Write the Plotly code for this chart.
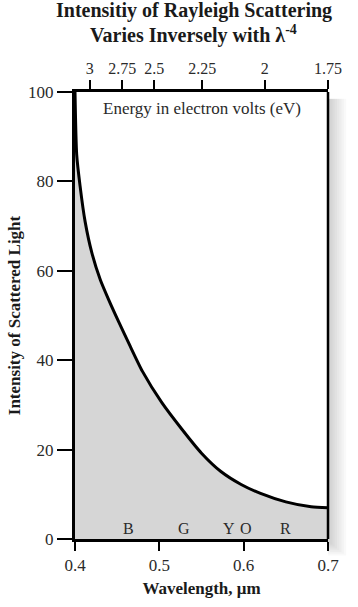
import plotly.graph_objects as go

# Data
wavelength = [0.400, 0.402, 0.406, 0.412, 0.420, 0.430, 0.440, 0.452, 0.465, 0.480,
              0.503, 0.527, 0.550, 0.573, 0.597, 0.620, 0.650, 0.680, 0.700]
intensity = [100, 86, 79, 71, 64, 58, 53.5, 48.5, 43.3, 37.5,
             30.5, 24.5, 19.2, 15.1, 12.2, 10.2, 8.3, 7.2, 7.0]

energy_labels = ["3", "2.75", "2.5", "2.25", "2", "1.75"]
energy_positions = [0.4176, 0.456, 0.494, 0.551, 0.625, 0.700]

color_letters = ["B", "G", "Y", "O", "R"]
color_positions = [0.464, 0.529, 0.583, 0.603, 0.650]

title_lines = ["<b>Intensitiy of Rayleigh Scattering</b>",
               "<b>Varies Inversely with λ<sup>-4</sup></b>"]

SERIF = "Liberation Serif, Times New Roman, serif"
TXT = "#2a2a2a"

fig = go.Figure()
fig.add_trace(go.Scatter(
    x=wavelength, y=intensity, mode="lines",
    line=dict(color="black", width=3, shape="spline", smoothing=0.6),
    fill="tozeroy", fillcolor="#d6d6d6", hoverinfo="skip", showlegend=False))
# invisible trace to activate top axis
fig.add_trace(go.Scatter(x=[0.4, 0.7], y=[0, 0], xaxis="x2", mode="lines",
                         line=dict(width=0), hoverinfo="skip", showlegend=False))

for letter, pos in zip(color_letters, color_positions):
    fig.add_annotation(x=pos, y=0, text=letter, showarrow=False, yanchor="bottom",
                       yshift=0, font=dict(family=SERIF, size=16, color=TXT))

fig.add_annotation(x=0.5, xref="paper", y=1, yref="paper", yanchor="top", yshift=-5,
                   text="Energy in electron volts (eV)", showarrow=False,
                   font=dict(family=SERIF, size=17, color=TXT))

# title lines as annotations
for line, shift in zip(title_lines, [82, 58]):
    fig.add_annotation(x=0.47, xref="paper", y=1, yref="paper", yanchor="middle",
                       xanchor="center", yshift=shift, showarrow=False, text=line,
                       borderpad=0,
                       font=dict(family=SERIF, size=20, color="#1a1a1a"))

# drop shadow on right and bottom
for k in range(1, 9):
    fig.add_shape(type="rect", xref="paper", yref="paper",
                  x0=1.0, x1=1.0 + k * 0.009, y0=-0.005 - k * 0.004, y1=0.985,
                  fillcolor="black", opacity=0.025, line=dict(width=0), layer="below")

fig.update_layout(
    width=358, height=607,
    margin=dict(l=72, r=30, t=92, b=64),
    paper_bgcolor="white", plot_bgcolor="white",
    xaxis=dict(range=[0.4, 0.7], tickvals=[0.4, 0.5, 0.6, 0.7],
               ticktext=["0.4", "0.5", "0.6", "0.7"],
               ticks="outside", ticklen=9, tickwidth=2, tickcolor="black",
               showline=True, linecolor="black", linewidth=2.5, mirror=False,
               showgrid=False, zeroline=False,
               tickfont=dict(family=SERIF, size=17, color=TXT),
               title=dict(text="<b>Wavelength, μm</b>", standoff=8,
                          font=dict(family=SERIF, size=17, color="#1a1a1a"))),
    xaxis2=dict(range=[0.4, 0.7], overlaying="x", side="top",
                tickvals=energy_positions, ticktext=energy_labels,
                ticks="outside", ticklen=9, tickwidth=2, tickcolor="black",
                showline=True, linecolor="black", linewidth=2.5,
                showgrid=False, zeroline=False,
                tickfont=dict(family=SERIF, size=16, color=TXT)),
    yaxis=dict(range=[0, 100], tickvals=[0, 20, 40, 60, 80, 100],
               ticks="outside", ticklen=15, tickwidth=2, tickcolor="black",
               showline=True, linecolor="black", linewidth=3, mirror=False,
               showgrid=False, zeroline=False,
               tickfont=dict(family=SERIF, size=17, color=TXT),
               title=dict(text="<b>Intensity of Scattered Light</b>", standoff=4,
                          font=dict(family=SERIF, size=17, color="#1a1a1a"))),
)
# right border line
fig.add_shape(type="line", xref="paper", yref="paper", x0=1, x1=1, y0=0, y1=1,
              line=dict(color="black", width=2.5))

fig.write_html("out.html")
